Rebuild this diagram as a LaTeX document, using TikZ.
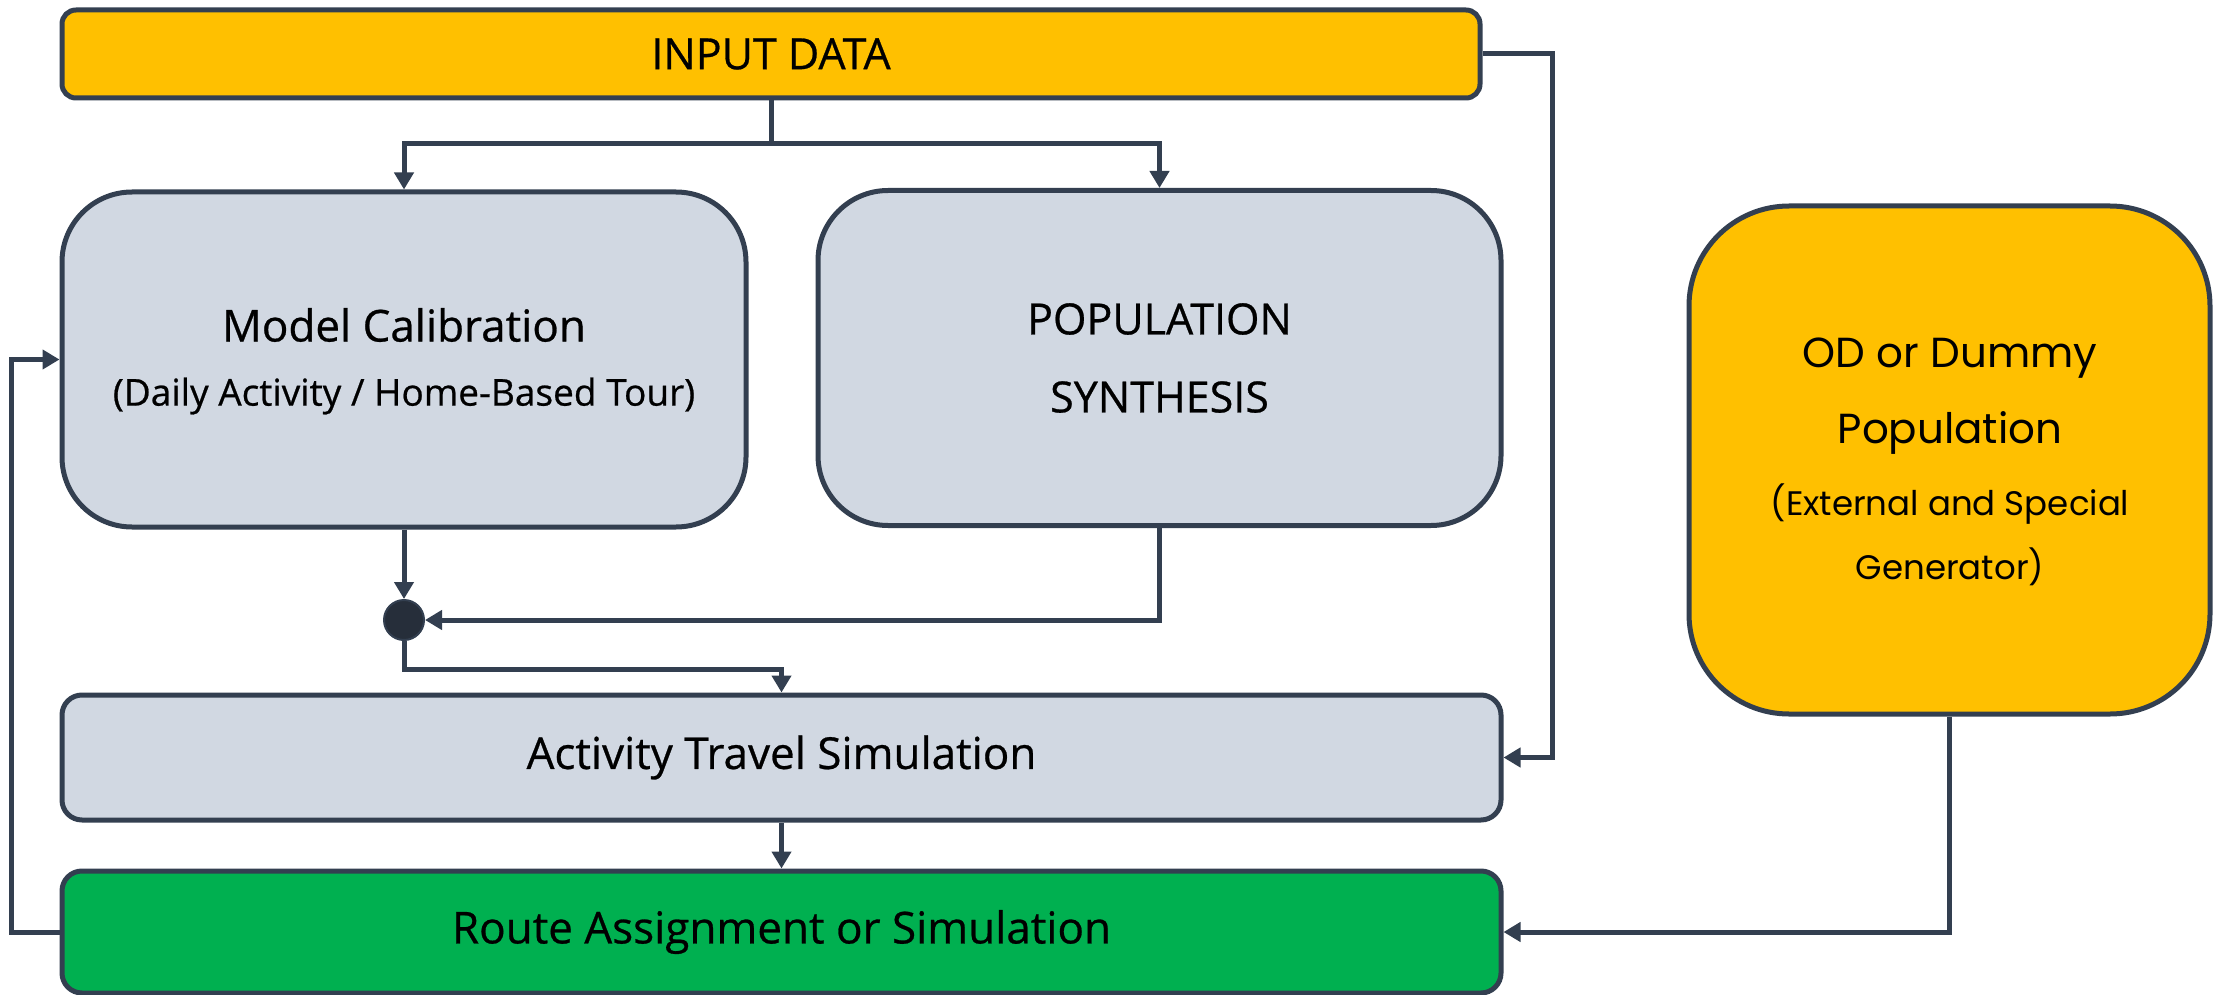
\documentclass[tikz,border=0pt]{standalone}
\usepackage{fontspec}
\setmainfont{Open Sans}[FakeBold=0.6]
\newfontfamily\odfont{Poppins}
\usetikzlibrary{arrows.meta}
\definecolor{cyellow}{HTML}{FFC000}
\definecolor{cgray}{HTML}{D1D8E2}
\definecolor{cgreen}{HTML}{00B050}
\definecolor{cborder}{HTML}{333F50}
\definecolor{cdot}{HTML}{262E3A}
\tikzset{
  box/.style={draw=cborder, line width=5pt, rectangle, align=center, inner sep=0pt},
  arr/.style={draw=cborder, line width=5pt, -{Triangle[length=17pt,width=19pt]}},
  ln/.style={draw=cborder, line width=5pt},
  big/.style={font=\fontsize{44}{52}\selectfont},
}
\begin{document}
\begin{tikzpicture}[x=1pt,y=-1pt]
\useasboundingbox (0,0) rectangle (2216,995);
\node[box, fill=cyellow, rounded corners=14pt, minimum width=1418pt, minimum height=88pt,
  font=\fontsize{43}{48}\selectfont] (input) at (771,54) {INPUT DATA};
\node[box, fill=cgray, rounded corners=70pt, minimum width=684pt, minimum height=335pt] (calib) at (404,359.5) {};
\node[font=\fontsize{44}{52}\selectfont] (calibt) at (404,325) {Model Calibration};
\node[font=\fontsize{37}{44}\selectfont] (calibs) at (404,396) {(Daily Activity / Home-Based Tour)};
\node[box, fill=cgray, rounded corners=70pt, minimum width=683pt, minimum height=335pt,
  font=\fontsize{43}{78}\selectfont] (popsyn) at (1159.5,358) {POPULATION\\SYNTHESIS};
\node[box, fill=cyellow, rounded corners=100pt, minimum width=521pt, minimum height=508pt] (od) at (1949.5,460) {};
\node[font=\odfont\fontsize{42}{76}\selectfont, align=center] (odt) at (1950,396) {OD or Dummy\\Population};
\node[font=\odfont\fontsize{34}{64}\selectfont, align=center] (ods) at (1950,535) {(External and Special\\Generator)};
\node[box, fill=cgray, rounded corners=20pt, minimum width=1439pt, minimum height=125pt, big] (activity) at (781.5,757.5) {Activity Travel Simulation};
\node[box, fill=cgreen, rounded corners=20pt, minimum width=1439pt, minimum height=122pt, big] (route) at (781.5,932) {Route Assignment or Simulation};
\node[circle, draw=cborder, fill=cdot, line width=2pt, minimum size=40pt, inner sep=0pt] (dot) at (404,620) {};
\coordinate (split) at (771,144);
\draw[ln] (input.south) -- (split);
\draw[arr] (split) -| (calib.north);
\draw[arr] (split) -| (popsyn.north);
\draw[arr] (calib.south) -- (dot.north);
\draw[arr] (popsyn.south) |- (dot.east);
\draw[arr] (dot.south) -- ++(0,28) -| (activity.north);
\draw[arr] (activity.south) -- (route.north);
\draw[arr] (input.east) -- ++(70,0) |- (activity.east);
\draw[arr] (od.south) |- (route.east);
\draw[arr] (route.west) -- ++(-48,0) |- (calib.west);
\end{tikzpicture}
\end{document}
